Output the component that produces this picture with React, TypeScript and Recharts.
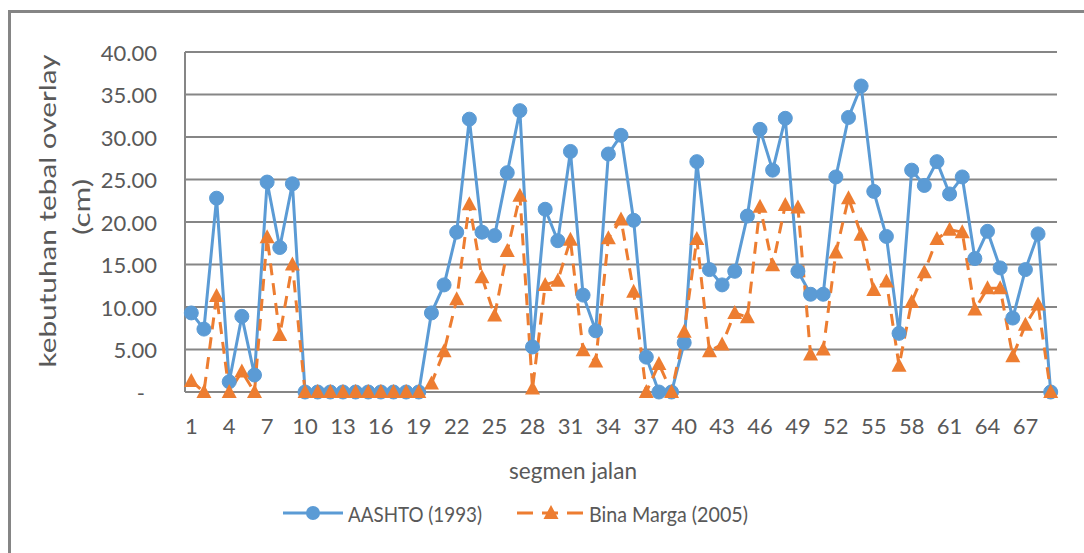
import React from 'react';
import { LineChart, Line, XAxis, YAxis, CartesianGrid } from 'recharts';

const segments = Array.from({ length: 69 }, (_, i) => String(i + 1));

const aashto = [
  9.3, 7.4, 22.8, 1.2, 8.9, 2.0, 24.7, 17.0, 24.5,
  0, 0, 0, 0, 0, 0, 0, 0, 0, 0,
  9.3, 12.6, 18.8, 32.1, 18.8, 18.4, 25.8, 33.1, 5.3, 21.5,
  17.8, 28.3, 11.4, 7.2, 28.0, 30.2, 20.2, 4.1, 0, 0,
  5.8, 27.1, 14.4, 12.6, 14.2, 20.7, 30.9, 26.1, 32.2, 14.2,
  11.5, 11.5, 25.3, 32.3, 36.0, 23.6, 18.3, 6.9, 26.1, 24.3,
  27.1, 23.3, 25.3, 15.7, 18.9, 14.6, 8.7, 14.4, 18.6, 0,
];

const binaMarga = [
  1.3, 0, 11.3, 0, 2.4, 0, 18.2, 6.7, 15.0,
  0, 0, 0, 0, 0, 0, 0, 0, 0, 0,
  1.0, 4.8, 10.9, 22.1, 13.5, 9.0, 16.6, 23.1, 0.4, 12.6,
  13.1, 17.9, 4.9, 3.6, 18.1, 20.3, 11.8, 0, 3.3, 0,
  7.1, 18.0, 4.8, 5.6, 9.3, 8.8, 21.8, 14.9, 22.0, 21.7,
  4.4, 5.0, 16.4, 22.8, 18.5, 12.0, 13.0, 3.1, 10.6, 14.1,
  18.0, 19.1, 18.8, 9.7, 12.2, 12.2, 4.2, 7.9, 10.3, 0,
];

const yTicks = [0, 5, 10, 15, 20, 25, 30, 35, 40];

const data = segments.map((s, i) => ({ segmen: s, aashto: aashto[i], bina: binaMarga[i] }));

const BLUE = '#5B9BD5';
const ORANGE = '#ED7D31';
const TEXT = '#595959';
const GRID = '#868686';
const FONT = 'Lato, "Open Sans", sans-serif';

function YTick({ x, y, payload }: any) {
  const v = payload.value as number;
  return (
    <text x={v === 0 ? x - 12 : x} y={y} textAnchor="end" dominantBaseline="central"
      fill={TEXT} fontSize={22} fontFamily={FONT}>
      {v === 0 ? '-' : v.toFixed(2)}
    </text>
  );
}

function XTick({ x, y, payload }: any) {
  return (
    <text x={x} y={y + 9} textAnchor="middle" dominantBaseline="central"
      fill={TEXT} fontSize={22} fontFamily={FONT}>
      {payload.value}
    </text>
  );
}

function TriangleDot(props: any) {
  const { cx, cy, index } = props;
  if (cx == null || cy == null) return null;
  return (
    <path key={`tri-${index}`} d={`M${cx},${cy - 8} L${cx + 7.5},${cy + 6} L${cx - 7.5},${cy + 6} Z`} fill={ORANGE} />
  );
}

export default function App() {
  return (
    <div style={{ position: 'absolute', left: 0, top: 0, width: 1084, height: 553, background: '#fff', overflow: 'hidden' }}>
      <div style={{ position: 'absolute', left: 8, top: 10, width: 1100, height: 600, borderLeft: '3px solid #858585', borderTop: '3px solid #858585' }} />
      <LineChart width={1084} height={553} data={data} margin={{ top: 52, right: 27, bottom: 101, left: 0 }}
        style={{ position: 'absolute', left: 0, top: 0, fontFamily: FONT }}>
        <CartesianGrid vertical={false} stroke={GRID} strokeWidth={2} />
        <XAxis dataKey="segmen" interval={2} tickLine={false} axisLine={{ stroke: GRID, strokeWidth: 2 }}
          tickSize={0} tickMargin={24} height={60} padding={{ left: 6.3, right: 6.3 }}
          tick={<XTick />} />
        <YAxis domain={[0, 40]} ticks={yTicks} width={185} tickLine={false} tickSize={0} tickMargin={28}
          axisLine={{ stroke: GRID, strokeWidth: 2 }} tick={<YTick />} />
        <Line dataKey="aashto" stroke={BLUE} strokeWidth={3} isAnimationActive={false}
          dot={{ r: 7, fill: BLUE, stroke: BLUE, strokeWidth: 1 }} />
        <Line dataKey="bina" stroke={ORANGE} strokeWidth={3} strokeDasharray="12 8" isAnimationActive={false}
          dot={<TriangleDot />} />
      </LineChart>
      <svg width={1084} height={553} style={{ position: 'absolute', left: 0, top: 0, pointerEvents: 'none' }}>
        <g fontFamily={FONT} fill={TEXT}>
          <text x={47} y={211} transform="rotate(-90 47 211)" textAnchor="middle" dominantBaseline="central"
            fontSize={23} textLength={313} lengthAdjust="spacingAndGlyphs">kebutuhan tebal overlay</text>
          <text x={81} y={207} transform="rotate(-90 81 207)" textAnchor="middle" dominantBaseline="central"
            fontSize={23} textLength={56} lengthAdjust="spacingAndGlyphs">(cm)</text>
          <text x={573} y={469} textAnchor="middle" dominantBaseline="central" fontSize={24}
            textLength={128} lengthAdjust="spacingAndGlyphs">segmen jalan</text>

          <line x1={283} y1={513} x2={343} y2={513} stroke={BLUE} strokeWidth={3} />
          <circle cx={313} cy={513} r={7} fill={BLUE} />
          <text x={348} y={513} dominantBaseline="central" fontSize={22}
            textLength={134} lengthAdjust="spacingAndGlyphs">AASHTO (1993)</text>

          <line x1={517} y1={513} x2={583} y2={513} stroke={ORANGE} strokeWidth={3} strokeDasharray="16 9" />
          <path d="M551,505 L558.5,519 L543.5,519 Z" fill={ORANGE} />
          <text x={589} y={513} dominantBaseline="central" fontSize={22}
            textLength={159} lengthAdjust="spacingAndGlyphs">Bina Marga (2005)</text>
        </g>
      </svg>
    </div>
  );
}
